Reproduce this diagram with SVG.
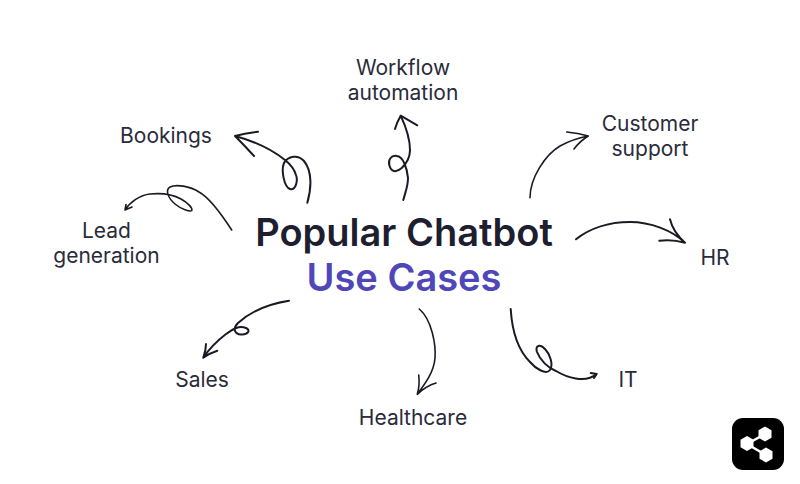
<svg xmlns="http://www.w3.org/2000/svg" width="800" height="484" viewBox="0 0 800 484">
<style>
text{font-family:"Inter","Liberation Sans",sans-serif;text-anchor:middle}
.l{font-size:21px;font-weight:400;fill:#2a2b3a}
.t{font-size:38px;font-weight:600;fill:#1d1e30}
.u{font-size:38px;font-weight:600;fill:#4f46b8}
.c{fill:none;stroke:#1a1a24;stroke-width:1.6;stroke-linecap:round;stroke-linejoin:round}
.h{stroke-width:2}
</style>
<rect width="800" height="484" fill="#fff"/>
<g id="connectors" class="c">
<path class="h" d="M307.300 202.700C311 190 313 172 304 161C298 154 288 156 284 163C281 170 284 187 290 189C296 191 298 180 296 175C294 168 290 164 285 160C270 148 250 140 235 136M258 131.700Q245 133 235 136Q244 145 254 156"/>
<path d="M231.700 230C222 215 210 198 199 192C190 186 176 184 170 187C165 190 168 198 175 204C181 209 190 212 191.700 210.700C193 208 188 203 181 199C172 194 160 193 150 194C140 195 130 202 125 210M126 204.500L125 210L132 207"/>
<path class="h" d="M403.300 200C406 190 408 186 408 178C407 168 403 156 396.700 156C391 155 388 160 389.300 165C391 172 396 173 401.700 168C407 163 410 156 410 150C410 140 405 125 400.700 115.700M395 129Q397 122 400.700 115.700Q408 120 417.300 125.300"/>
<path d="M530 197.700C530 178 545 155 560 146C569 141 578 138 588.300 136M566.700 132Q578 133 588.300 136Q580 141 574 149"/>
<path class="h" d="M576 239.300C590 228 610 222 630 222C650 222 672 230 685 242.700M670 219.300Q673 232 685 242.700Q672 239 659.300 240.700"/>
<path class="h" d="M289 300.700C268 304 250 312 238 323C232 329 235 334 241 334.500C248 335 251 330 246 328C238 325 232 330 226 334C217 341 209 349 203.300 357.700M206 344Q206 350 203.300 357.700Q210 353 217.300 350.700"/>
<path d="M419.300 309C432 320 436 345 435 358C434 372 425 384 417.300 394.300M418.700 375Q420 385 417.300 394.300Q426 386 436 383"/>
<path class="h" d="M510.700 309C512 330 518 350 530 362C536 369 546 375 550 370C554 364 549 353 545 349C540 344 535 345 537 352C540 360 548 368 556 371C566 377 585 384 596.700 374M590.700 373L596.700 374L594 378"/>
</g>
<g id="title"><text class="t" x="404" y="246">Popular Chatbot</text><text class="u" x="404" y="291">Use Cases</text></g>
<g id="workflow"><text class="l" x="403" y="75">Workflow</text><text class="l" x="403" y="100">automation</text></g>
<g id="bookings"><text class="l" x="166" y="143">Bookings</text></g>
<g id="customer"><text class="l" x="650" y="131">Customer</text><text class="l" x="650" y="156">support</text></g>
<g id="lead"><text class="l" x="106.500" y="237.500">Lead</text><text class="l" x="106.500" y="262.500">generation</text></g>
<g id="hr"><text class="l" x="715" y="264.500">HR</text></g>
<g id="it"><text class="l" x="628" y="386.500">IT</text></g>
<g id="sales"><text class="l" x="202" y="386.500">Sales</text></g>
<g id="healthcare"><text class="l" x="413" y="424.500">Healthcare</text></g>
<g id="logo">
<rect x="732" y="418" width="52" height="52" rx="11" fill="#000"/>
<path d="M765 434L747 444L766 455" fill="none" stroke="#fff" stroke-width="2.500"/>
<path fill="#fff" d="M765 426.500L771.500 430.300V437.700L765 441.500L758.500 437.700V430.300ZM747 436L753.500 439.800V447.200L747 451L740.500 447.200V439.800ZM766 447.500L772.500 451.300V458.700L766 462.500L759.500 458.700V451.300Z"/>
</g>
</svg>
